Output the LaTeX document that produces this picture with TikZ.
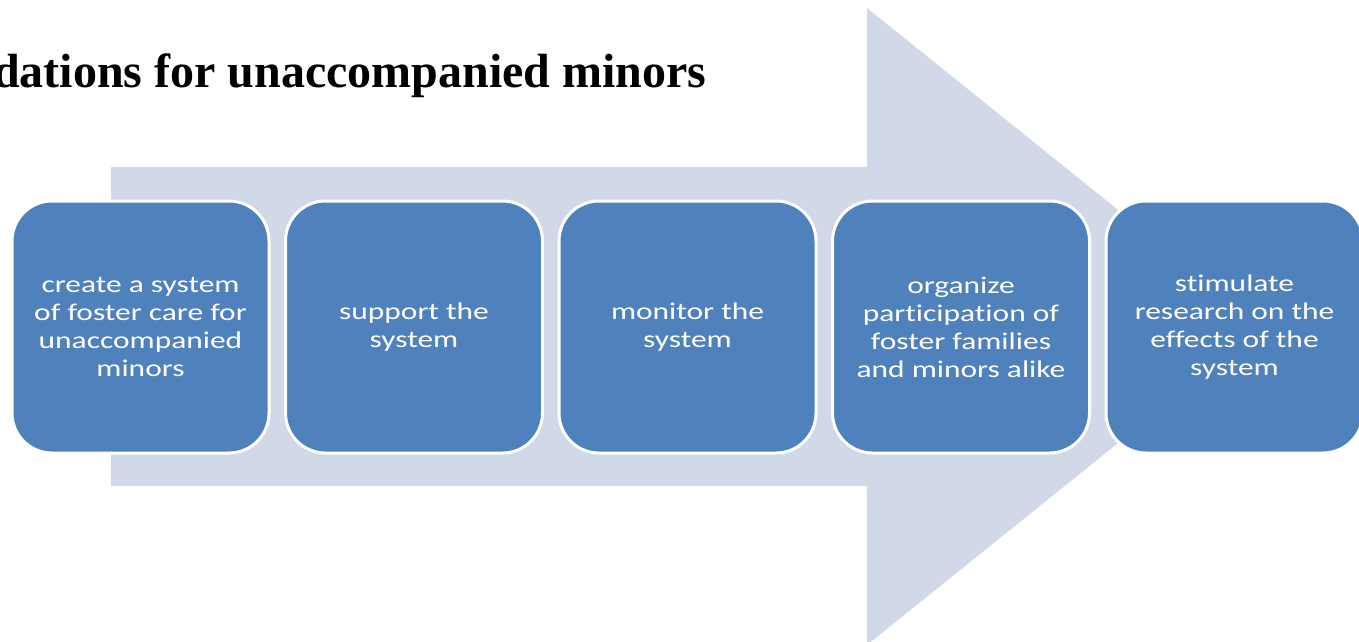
\documentclass[tikz,border=0pt]{standalone}
\usepackage{fontspec}
\setmainfont{Liberation Serif}
\newfontfamily\stepfont[FakeStretch=1.31, Ligatures=NoCommon]{Carlito}
\usepackage{tikz}
\definecolor{arrowbg}{HTML}{D1D8E8}
\definecolor{stepblue}{HTML}{4F81BD}
\tikzset{
	stepbox/.style={draw=white, line width=3pt, fill=stepblue, rounded corners=40pt,
		minimum width=257pt, minimum height=252pt, inner sep=0pt, align=center,
		text=white, font=\stepfont\fontsize{24}{28}\selectfont},
}

\begin{document}
\begin{tikzpicture}[x=1pt, y=-1pt]
	\useasboundingbox (0,0) rectangle (1359,642);
	\clip (0,0) rectangle (1359,642);
	% big arrow behind the steps
	\fill[arrowbg] (111,167) -- (867,167) -- (867,8) -- (1263,326.5) -- (867,645) -- (867,486) -- (111,486) -- cycle;
	\node[anchor=base east, font=\bfseries\fontsize{48}{56}\selectfont] (title) at (710,88) {dations for unaccompanied minors};
	% steps
	\node[stepbox] (create) at (140.5,327) {create a system\\of foster care for\\unaccompanied\\minors};
	\node[stepbox] (support) at (414,327) {support the\\system};
	\node[stepbox] (monitor) at (687.5,327) {monitor the\\system};
	\node[stepbox] (organize) at (961,327) {organize\\participation of\\foster families\\and minors alike};
	\node[stepbox] (research) at (1234.5,327) {stimulate\\research on the\\effects of the\\system};
\end{tikzpicture}
\end{document}
